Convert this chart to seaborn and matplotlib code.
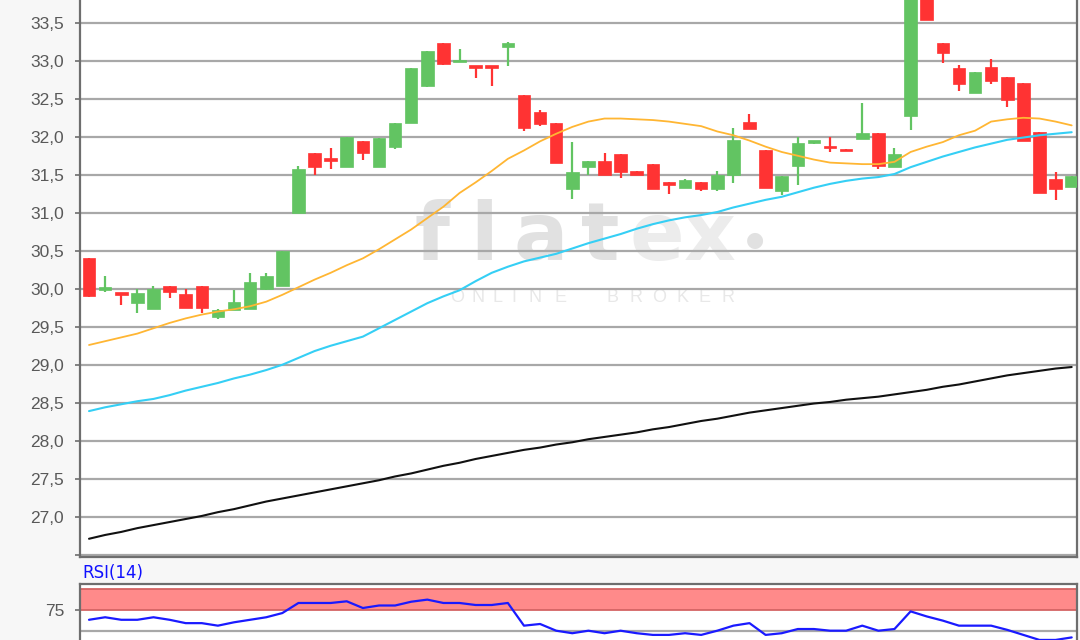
"""Kerzenchart mit gleitenden Durchschnitten und RSI(14), gespeichert als out.png."""
import matplotlib
matplotlib.use("Agg")  # kein Display
import matplotlib.pyplot as plt  # noqa: E402
from matplotlib.ticker import FuncFormatter  # noqa: E402
import numpy as np  # noqa: E402
import pandas as pd  # noqa: E402
import seaborn as sns  # noqa: E402

# --- Kursdaten --------------------------------------------------------------
open_ = [30.40, 29.99, 29.94, 29.81, 29.73, 30.04, 29.93, 30.04, 29.63, 29.72,
         29.73, 30.00, 30.04, 31.00, 31.79, 31.69, 31.60, 31.95, 31.60, 31.87,
         32.18, 32.67, 33.24, 32.98, 32.93, 32.93, 33.18, 32.55, 32.32, 32.18,
         31.31, 31.60, 31.68, 31.77, 31.55, 31.64, 31.40, 31.33, 31.40, 31.31,
         31.50, 32.19, 31.82, 31.28, 31.61, 31.92, 31.86, 31.84, 31.97, 32.05,
         31.60, 32.28, 34.00, 33.24, 32.90, 32.57, 32.92, 32.79, 32.71, 32.06,
         31.44, 31.34]
close = [29.90, 30.00, 29.92, 29.95, 30.00, 29.96, 29.75, 29.75, 29.72, 29.82,
         30.09, 30.17, 30.50, 31.58, 31.60, 31.68, 32.00, 31.78, 31.99, 32.18,
         32.90, 33.13, 32.96, 33.00, 32.91, 32.91, 33.24, 32.12, 32.17, 31.65,
         31.53, 31.68, 31.50, 31.54, 31.50, 31.31, 31.37, 31.43, 31.31, 31.50,
         31.96, 32.10, 31.33, 31.49, 31.92, 31.94, 31.85, 31.81, 32.05, 31.61,
         31.77, 34.20, 33.54, 33.10, 32.70, 32.85, 32.73, 32.49, 31.94, 31.26,
         31.31, 31.48]
high = [30.40, 30.17, 29.94, 30.00, 30.03, 30.04, 30.00, 30.04, 29.73, 29.99,
        30.21, 30.21, 30.50, 31.62, 31.79, 31.85, 32.00, 31.95, 31.99, 32.18,
        32.90, 33.13, 33.24, 33.16, 32.93, 32.93, 33.25, 32.55, 32.35, 32.18,
        31.93, 31.68, 31.79, 31.77, 31.55, 31.64, 31.40, 31.45, 31.40, 31.55,
        32.11, 32.30, 31.82, 31.49, 32.00, 31.95, 32.00, 31.84, 32.45, 32.05,
        31.85, 34.20, 34.00, 33.24, 32.94, 32.85, 33.03, 32.79, 32.71, 32.06,
        31.53, 31.48]
low = [29.89, 29.96, 29.78, 29.68, 29.73, 29.88, 29.75, 29.68, 29.60, 29.72,
       29.73, 29.99, 30.04, 31.00, 31.50, 31.57, 31.60, 31.70, 31.60, 31.84,
       32.18, 32.65, 32.94, 32.98, 32.78, 32.67, 32.93, 32.07, 32.14, 31.65,
       31.18, 31.50, 31.50, 31.46, 31.50, 31.31, 31.25, 31.33, 31.28, 31.28,
       31.39, 32.10, 31.33, 31.23, 31.36, 31.91, 31.80, 31.81, 31.97, 31.58,
       31.60, 32.09, 33.54, 32.97, 32.60, 32.57, 32.70, 32.39, 31.94, 31.26,
       31.17, 31.34]

# gleitende Durchschnitte (orange, cyan, schwarz)
ma_fast = [29.26, 29.31, 29.36, 29.41, 29.48, 29.55, 29.61, 29.66, 29.70, 29.73,
           29.77, 29.83, 29.92, 30.02, 30.12, 30.21, 30.31, 30.40, 30.52, 30.65,
           30.78, 30.93, 31.08, 31.26, 31.40, 31.55, 31.71, 31.82, 31.94, 32.04,
           32.13, 32.20, 32.24, 32.24, 32.23, 32.22, 32.20, 32.17, 32.14, 32.07,
           32.02, 31.95, 31.87, 31.80, 31.75, 31.70, 31.66, 31.65, 31.64, 31.64,
           31.67, 31.80, 31.87, 31.93, 32.02, 32.08, 32.20, 32.23, 32.25, 32.24,
           32.20, 32.15]
ma_mid = [28.39, 28.44, 28.48, 28.52, 28.55, 28.60, 28.66, 28.71, 28.76, 28.82,
          28.87, 28.93, 29.00, 29.09, 29.18, 29.25, 29.31, 29.37, 29.48, 29.59,
          29.70, 29.81, 29.90, 29.98, 30.10, 30.21, 30.29, 30.36, 30.41, 30.46,
          30.53, 30.60, 30.66, 30.72, 30.79, 30.85, 30.90, 30.94, 30.97, 31.01,
          31.07, 31.12, 31.17, 31.21, 31.27, 31.33, 31.38, 31.42, 31.45, 31.47,
          31.51, 31.60, 31.67, 31.74, 31.80, 31.86, 31.91, 31.96, 31.99, 32.02,
          32.04, 32.06]
ma_slow = [26.71, 26.76, 26.80, 26.85, 26.89, 26.93, 26.97, 27.01, 27.06, 27.10,
           27.15, 27.20, 27.24, 27.28, 27.32, 27.36, 27.40, 27.44, 27.48, 27.53,
           27.57, 27.62, 27.67, 27.71, 27.76, 27.80, 27.84, 27.88, 27.91, 27.95,
           27.98, 28.02, 28.05, 28.08, 28.11, 28.15, 28.18, 28.22, 28.26, 28.29,
           28.33, 28.37, 28.40, 28.43, 28.46, 28.49, 28.51, 28.54, 28.56, 28.58,
           28.61, 28.64, 28.67, 28.71, 28.74, 28.78, 28.82, 28.86, 28.89, 28.92,
           28.95, 28.97]

rsi = [63, 66, 63, 63, 66, 63, 59, 59, 56, 60,
       63, 66, 71, 83, 83, 83, 85, 77, 80, 80,
       84.5, 87, 83, 83, 80.6, 80.6, 83, 56, 58, 50,
       47, 50, 47, 50, 47, 45, 45, 47, 45, 50,
       56, 59, 45, 47, 52, 52, 50, 50, 56, 50,
       52, 73, 67, 62, 56, 56, 56, 51, 45, 39,
       39, 42]

price_ticks = [26.5, 27.0, 27.5, 28.0, 28.5, 29.0, 29.5, 30.0, 30.5, 31.0,
               31.5, 32.0, 32.5, 33.0, 33.5]
rsi_ticks = [75]
rsi_grid = [25, 50]
rsi_band = (75, 100)

UP, DOWN = "#62c462", "#ff3333"
BG = "#f7f7f7"
GRID = "#a8a8a8"
SPINE = "#6e6e6e"

df = pd.DataFrame({"t": np.arange(len(close)), "open": open_, "close": close,
                   "high": high, "low": low, "ma_fast": ma_fast,
                   "ma_mid": ma_mid, "ma_slow": ma_slow, "rsi": rsi})
df["up"] = df["close"] >= df["open"]

sns.set_theme(style="white")
plt.rcParams["font.family"] = ["Liberation Sans", "DejaVu Sans"]

W, H = 1080, 640
fig = plt.figure(figsize=(W / 100, H / 100), dpi=100, facecolor=BG)
ax = fig.add_axes([80 / W, (H - 557) / H, 997 / W, 557 / H])
ax_rsi = fig.add_axes([80 / W, (H - 672.7) / H, 997 / W, 88.7 / H])


def _ax_xy(px, py):
    """Pixelposition im Bild -> Achsenkoordinaten des Kurs-Panels."""
    return (px - 80) / 997, 1 - py / 557


# --- Kurs-Panel --------------------------------------------------------------
ax.set_facecolor("white")
ax.set_axisbelow(True)
ax.grid(axis="y", color=GRID, lw=1.6)
ax.grid(axis="x", visible=False)

# Wasserzeichen "flatex" / "ONLINE BROKER"
wm = [("f", 432, "#e1e1e1"), ("l", 484, "#e1e1e1"), ("a", 541, "#e1e1e1"),
      ("t", 600, "#e1e1e1"), ("e", 657, "#ececec"), ("x", 710, "#ececec")]
for ch, px, col in wm:
    ax.text(*_ax_xy(px, 260), ch, transform=ax.transAxes, ha="center",
            va="baseline", fontsize=58, fontweight="bold", color=col,
            family="DejaVu Sans", zorder=0.1)
ax.text(*_ax_xy(755, 240), "\u25cf", transform=ax.transAxes, ha="center",
        va="center", fontsize=15, color="#e1e1e1", family="DejaVu Sans",
        zorder=0.1)
sub_letters = list("ONLINE") + list("BROKER")
sub_x = [457, 478, 497, 514, 535, 560, 613, 636, 659, 682, 705, 728]
for ch, px in zip(sub_letters, sub_x):
    ax.text(*_ax_xy(px, 298), ch, transform=ax.transAxes, ha="center",
            va="center", fontsize=13, color="#e8e8e8", zorder=0.1)

# Kerzen
for is_up, part in df.groupby("up"):
    col = UP if is_up else DOWN
    ax.vlines(part["t"], part["low"], part["high"], color=col, lw=1.6, zorder=2)
    body = (part["close"] - part["open"]).abs().clip(lower=0.035)
    ax.bar(part["t"], body, bottom=part[["open", "close"]].min(axis=1),
           width=0.78, color=col, edgecolor=col, lw=0.5, zorder=3)

sns.lineplot(data=df, x="t", y="ma_slow", ax=ax, color="#111111", lw=1.5, zorder=4)
sns.lineplot(data=df, x="t", y="ma_mid", ax=ax, color="#35cff5", lw=1.5, zorder=4)
sns.lineplot(data=df, x="t", y="ma_fast", ax=ax, color="#ffb633", lw=1.3, zorder=4)

ax.set_xlim(-0.56, 61.33)
ax.set_ylim(26.47, 33.80)
ax.set_yticks(price_ticks)
ax.yaxis.set_major_formatter(FuncFormatter(
    lambda v, _: "" if v < 26.9 else f"{v:.1f}".replace(".", ",")))
ax.set_xticks([])
ax.set_xlabel(""); ax.set_ylabel("")
ax.tick_params(axis="y", left=True, length=3.5, width=1.2, color=SPINE,
               labelsize=12.5, labelcolor="#595959", pad=8)
ax.spines["top"].set_visible(False)
for side in ("left", "right", "bottom"):
    ax.spines[side].set_color(SPINE)
    ax.spines[side].set_linewidth(1.6)

# --- RSI-Panel ---------------------------------------------------------------
ax_rsi.set_facecolor("white")
ax_rsi.axhspan(*rsi_band, color="#ff8a8a", lw=0, zorder=1)
for lvl in rsi_band:
    ax_rsi.axhline(lvl, color="#d46464", lw=1.3, zorder=1.5)
sns.lineplot(data=df, x="t", y="rsi", ax=ax_rsi, color="#1a1aff", lw=1.6, zorder=3)
ax_rsi.set_xlim(-0.56, 61.33)
ax_rsi.set_ylim(0, 105.6)
ax_rsi.set_yticks(rsi_ticks)
ax_rsi.set_yticks(rsi_grid, minor=True)
ax_rsi.grid(axis="y", which="minor", color=GRID, lw=1.6)
ax_rsi.grid(axis="y", which="major", visible=False)
ax_rsi.grid(axis="x", visible=False)
ax_rsi.set_xticks([])
ax_rsi.set_xlabel(""); ax_rsi.set_ylabel("")
ax_rsi.tick_params(axis="y", which="major", left=True, length=3.5, width=1.2,
                   color=SPINE, labelsize=12.5, labelcolor="#595959", pad=8)
ax_rsi.tick_params(axis="y", which="minor", left=False, length=0)
for side in ("left", "right", "top", "bottom"):
    ax_rsi.spines[side].set_color(SPINE)
    ax_rsi.spines[side].set_linewidth(1.6)

fig.text(82 / W, (H - 573) / H, "RSI(14)", color="#1010ff", fontsize=12,
         family="DejaVu Sans", ha="left", va="center")

fig.savefig("out.png", dpi=100, facecolor=BG)
plt.close(fig)
